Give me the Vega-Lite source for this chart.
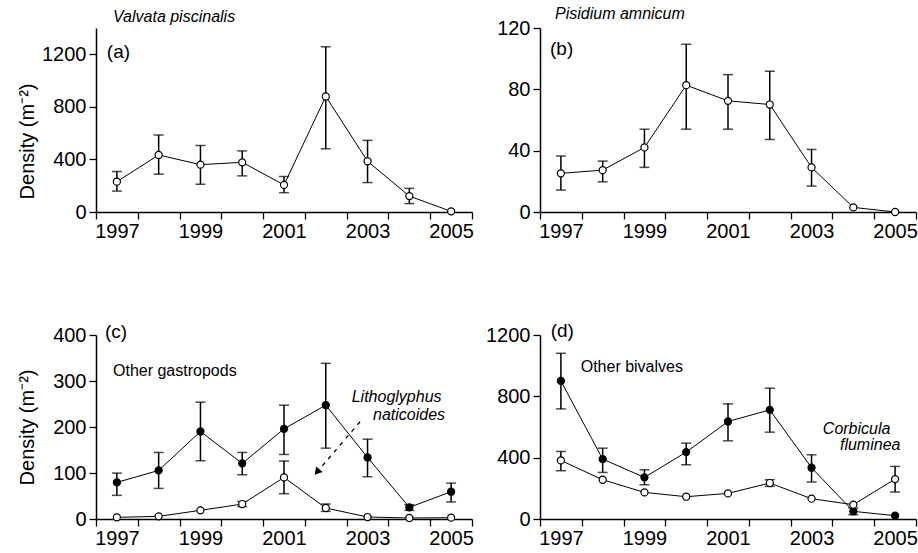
{
  "$schema": "https://vega.github.io/schema/vega-lite/v6.json",
  "background": "white",
  "padding": {"left": 16, "top": 6, "right": 0, "bottom": 0},
  "datasets": {
    "main": [
      {"panel": "a", "series": "Valvata piscinalis", "filled": "open", "year": 1997, "mean": 231, "lo": 159, "hi": 308},
      {"panel": "a", "series": "Valvata piscinalis", "filled": "open", "year": 1998, "mean": 434, "lo": 288, "hi": 586},
      {"panel": "a", "series": "Valvata piscinalis", "filled": "open", "year": 1999, "mean": 360, "lo": 211, "hi": 506},
      {"panel": "a", "series": "Valvata piscinalis", "filled": "open", "year": 2000, "mean": 378, "lo": 275, "hi": 465},
      {"panel": "a", "series": "Valvata piscinalis", "filled": "open", "year": 2001, "mean": 206, "lo": 147, "hi": 270},
      {"panel": "a", "series": "Valvata piscinalis", "filled": "open", "year": 2002, "mean": 879, "lo": 481, "hi": 1257},
      {"panel": "a", "series": "Valvata piscinalis", "filled": "open", "year": 2003, "mean": 386, "lo": 224, "hi": 545},
      {"panel": "a", "series": "Valvata piscinalis", "filled": "open", "year": 2004, "mean": 121, "lo": 64, "hi": 180},
      {"panel": "a", "series": "Valvata piscinalis", "filled": "open", "year": 2005, "mean": 5, "lo": null, "hi": null},

      {"panel": "b", "series": "Pisidium amnicum", "filled": "open", "year": 1997, "mean": 25.2, "lo": 14.3, "hi": 36.5},
      {"panel": "b", "series": "Pisidium amnicum", "filled": "open", "year": 1998, "mean": 27.3, "lo": 19.7, "hi": 33.2},
      {"panel": "b", "series": "Pisidium amnicum", "filled": "open", "year": 1999, "mean": 42.1, "lo": 29.1, "hi": 54},
      {"panel": "b", "series": "Pisidium amnicum", "filled": "open", "year": 2000, "mean": 82.7, "lo": 54, "hi": 109.4},
      {"panel": "b", "series": "Pisidium amnicum", "filled": "open", "year": 2001, "mean": 72.5, "lo": 54, "hi": 89.6},
      {"panel": "b", "series": "Pisidium amnicum", "filled": "open", "year": 2002, "mean": 70.1, "lo": 47.3, "hi": 91.8},
      {"panel": "b", "series": "Pisidium amnicum", "filled": "open", "year": 2003, "mean": 29.1, "lo": 16.9, "hi": 40.8},
      {"panel": "b", "series": "Pisidium amnicum", "filled": "open", "year": 2004, "mean": 3.0, "lo": null, "hi": null},
      {"panel": "b", "series": "Pisidium amnicum", "filled": "open", "year": 2005, "mean": 0, "lo": null, "hi": null},

      {"panel": "c", "series": "Other gastropods", "filled": "filled", "year": 1997, "mean": 79.6, "lo": 51.4, "hi": 99.8},
      {"panel": "c", "series": "Other gastropods", "filled": "filled", "year": 1998, "mean": 105.6, "lo": 66.5, "hi": 144.7},
      {"panel": "c", "series": "Other gastropods", "filled": "filled", "year": 1999, "mean": 190.2, "lo": 126.6, "hi": 253.9},
      {"panel": "c", "series": "Other gastropods", "filled": "filled", "year": 2000, "mean": 120.8, "lo": 96.2, "hi": 144.7},
      {"panel": "c", "series": "Other gastropods", "filled": "filled", "year": 2001, "mean": 196, "lo": 140.3, "hi": 247.4},
      {"panel": "c", "series": "Other gastropods", "filled": "filled", "year": 2002, "mean": 247.4, "lo": 154, "hi": 338.5},
      {"panel": "c", "series": "Other gastropods", "filled": "filled", "year": 2003, "mean": 133.8, "lo": 91.9, "hi": 173.6},
      {"panel": "c", "series": "Other gastropods", "filled": "filled", "year": 2004, "mean": 25.3, "lo": 18.8, "hi": 31},
      {"panel": "c", "series": "Other gastropods", "filled": "filled", "year": 2005, "mean": 59.3, "lo": 37, "hi": 78},

      {"panel": "c", "series": "Lithoglyphus naticoides", "filled": "open", "year": 1997, "mean": 3.6, "lo": null, "hi": null},
      {"panel": "c", "series": "Lithoglyphus naticoides", "filled": "open", "year": 1998, "mean": 5.8, "lo": null, "hi": null},
      {"panel": "c", "series": "Lithoglyphus naticoides", "filled": "open", "year": 1999, "mean": 18.8, "lo": null, "hi": null},
      {"panel": "c", "series": "Lithoglyphus naticoides", "filled": "open", "year": 2000, "mean": 32.5, "lo": 27, "hi": 38},
      {"panel": "c", "series": "Lithoglyphus naticoides", "filled": "open", "year": 2001, "mean": 90.4, "lo": 55, "hi": 125.9},
      {"panel": "c", "series": "Lithoglyphus naticoides", "filled": "open", "year": 2002, "mean": 23.9, "lo": 16.6, "hi": 32.5},
      {"panel": "c", "series": "Lithoglyphus naticoides", "filled": "open", "year": 2003, "mean": 4.3, "lo": null, "hi": null},
      {"panel": "c", "series": "Lithoglyphus naticoides", "filled": "open", "year": 2004, "mean": 2.2, "lo": null, "hi": null},
      {"panel": "c", "series": "Lithoglyphus naticoides", "filled": "open", "year": 2005, "mean": 2.9, "lo": null, "hi": null},

      {"panel": "d", "series": "Other bivalves", "filled": "filled", "year": 1997, "mean": 900.6, "lo": 718, "hi": 1080.7},
      {"panel": "d", "series": "Other bivalves", "filled": "filled", "year": 1998, "mean": 390.6, "lo": 303.8, "hi": 462},
      {"panel": "d", "series": "Other bivalves", "filled": "filled", "year": 1999, "mean": 271.3, "lo": 223.5, "hi": 321},
      {"panel": "d", "series": "Other bivalves", "filled": "filled", "year": 2000, "mean": 436.2, "lo": 353.7, "hi": 494.8},
      {"panel": "d", "series": "Other bivalves", "filled": "filled", "year": 2001, "mean": 635.8, "lo": 510, "hi": 750.9},
      {"panel": "d", "series": "Other bivalves", "filled": "filled", "year": 2002, "mean": 711.8, "lo": 566.4, "hi": 852.9},
      {"panel": "d", "series": "Other bivalves", "filled": "filled", "year": 2003, "mean": 334.2, "lo": 240.9, "hi": 418.8},
      {"panel": "d", "series": "Other bivalves", "filled": "filled", "year": 2004, "mean": 49.9, "lo": 28.2, "hi": 71.6},
      {"panel": "d", "series": "Other bivalves", "filled": "filled", "year": 2005, "mean": 21.7, "lo": null, "hi": null},

      {"panel": "d", "series": "Corbicula fluminea", "filled": "open", "year": 1997, "mean": 382, "lo": 314.7, "hi": 440.5},
      {"panel": "d", "series": "Corbicula fluminea", "filled": "open", "year": 1998, "mean": 256, "lo": null, "hi": null},
      {"panel": "d", "series": "Corbicula fluminea", "filled": "open", "year": 1999, "mean": 173.6, "lo": null, "hi": null},
      {"panel": "d", "series": "Corbicula fluminea", "filled": "open", "year": 2000, "mean": 145.4, "lo": null, "hi": null},
      {"panel": "d", "series": "Corbicula fluminea", "filled": "open", "year": 2001, "mean": 167.1, "lo": null, "hi": null},
      {"panel": "d", "series": "Corbicula fluminea", "filled": "open", "year": 2002, "mean": 234.4, "lo": 212.7, "hi": 256},
      {"panel": "d", "series": "Corbicula fluminea", "filled": "open", "year": 2003, "mean": 132.4, "lo": null, "hi": null},
      {"panel": "d", "series": "Corbicula fluminea", "filled": "open", "year": 2004, "mean": 93.3, "lo": null, "hi": null},
      {"panel": "d", "series": "Corbicula fluminea", "filled": "open", "year": 2005, "mean": 260.4, "lo": 175.8, "hi": 342.9}
    ],
    "labels": [
      {"panel": "a", "style": "tag", "text": "(a)", "year": 1996.76, "v": 1217},
      {"panel": "b", "style": "tag", "text": "(b)", "year": 1996.74, "v": 106.3},
      {"panel": "c", "style": "tag", "text": "(c)", "year": 1996.715, "v": 407},
      {"panel": "c", "style": "normal", "text": "Other gastropods", "year": 1996.907, "v": 322.4},
      {"panel": "c", "style": "italic", "text": "Lithoglyphus", "year": 2002.62, "v": 265.9},
      {"panel": "c", "style": "italic", "text": "naticoides", "year": 2003.13, "v": 226},
      {"panel": "d", "style": "tag", "text": "(d)", "year": 1996.756, "v": 1226},
      {"panel": "d", "style": "normal", "text": "Other bivalves", "year": 1997.474, "v": 989},
      {"panel": "d", "style": "italic", "text": "Corbicula", "year": 2003.27, "v": 587},
      {"panel": "d", "style": "italic", "text": "fluminea", "year": 2003.68, "v": 482.6}
    ],
    "arrow": [
      {"panel": "c", "year": 2002.82, "v": 211.5, "year2": 2001.79, "v2": 102}
    ]
  },
  "spacing": {"row": 123, "column": 68},
  "bounds": "flush",
  "columns": 2,
  "concat": [
    {
      "width": 376, "height": 184,
      "title": {"text": "Valvata piscinalis", "anchor": "start", "frame": "group", "dx": 17, "offset": 3, "fontStyle": "italic", "fontWeight": "normal", "fontSize": 16, "font": "Liberation Sans", "color": "black"},
      "data": {"name": "main"},
      "encoding": {
        "x": {"field": "year", "type": "quantitative", "title": null,
          "scale": {"domain": [1996.5, 2005.5], "nice": false, "zero": false},
          "axis": {"values": [1996.5, 1997, 1997.5, 1998.5, 1999, 1999.5, 2000.5, 2001, 2001.5, 2002.5, 2003, 2003.5, 2004.5, 2005, 2005.5],
            "labelExpr": "datum.value % 2 == 1 ? format(datum.value, 'd') : ''",
            "tickOpacity": {"condition": {"test": "datum.value % 1 == 0", "value": 0}, "value": 1},
            "labelPadding": 2}}
      },
      "layer": [
        {"transform": [{"filter": "datum.panel == 'a'"}],
         "mark": {"type": "line", "color": "black", "strokeWidth": 1},
         "encoding": {
           "y": {"field": "mean", "type": "quantitative", "title": "Density (m⁻²)",
             "scale": {"domain": [0, 1400], "nice": false, "zero": true},
             "axis": {"values": [0, 200, 400, 600, 800, 1000, 1200, 1400], "format": "d",
               "labelExpr": "datum.value % 400 == 0 ? datum.label : ''", "labelPadding": 3,
               "titleX": -59, "titleY": 113}},
           "detail": {"field": "series"}}},
        {"transform": [{"filter": "datum.panel == 'a' && isValid(datum.hi)"}],
         "mark": {"type": "errorbar", "color": "black", "thickness": 1.5, "ticks": {"size": 10}},
         "encoding": {"y": {"field": "lo", "type": "quantitative", "title": "Density (m⁻²)"}, "y2": {"field": "hi"}}},
        {"transform": [{"filter": "datum.panel == 'a'"}],
         "mark": {"type": "point", "shape": "circle", "filled": true, "size": 50, "stroke": "black", "strokeWidth": 1.2, "opacity": 1},
         "encoding": {
           "y": {"field": "mean", "type": "quantitative", "title": "Density (m⁻²)"},
           "fill": {"field": "filled", "type": "nominal", "scale": {"domain": ["open", "filled"], "range": ["white", "black"]}, "legend": null}}},
        {"data": {"name": "labels"}, "transform": [{"filter": "datum.panel == 'a' && datum.style == 'tag'"}],
         "mark": {"type": "text", "align": "left", "baseline": "middle", "fontSize": 19, "font": "Liberation Sans", "color": "black"},
         "encoding": {"y": {"field": "v", "type": "quantitative", "title": "Density (m⁻²)"}, "text": {"field": "text"}}}
      ]
    },
    {
      "width": 376, "height": 184,
      "title": {"text": "Pisidium amnicum", "anchor": "start", "frame": "group", "dx": 15, "offset": -4, "fontStyle": "italic", "fontWeight": "normal", "fontSize": 16, "font": "Liberation Sans", "color": "black"},
      "data": {"name": "main"},
      "encoding": {
        "x": {"field": "year", "type": "quantitative", "title": null,
          "scale": {"domain": [1996.5, 2005.5], "nice": false, "zero": false},
          "axis": {"values": [1996.5, 1997, 1997.5, 1998.5, 1999, 1999.5, 2000.5, 2001, 2001.5, 2002.5, 2003, 2003.5, 2004.5, 2005, 2005.5],
            "labelExpr": "datum.value % 2 == 1 ? format(datum.value, 'd') : ''",
            "tickOpacity": {"condition": {"test": "datum.value % 1 == 0", "value": 0}, "value": 1},
            "labelPadding": 2}}
      },
      "layer": [
        {"transform": [{"filter": "datum.panel == 'b'"}],
         "mark": {"type": "line", "color": "black", "strokeWidth": 1},
         "encoding": {
           "y": {"field": "mean", "type": "quantitative", "title": null,
             "scale": {"domain": [0, 120], "nice": false, "zero": true},
             "axis": {"values": [0, 20, 40, 60, 80, 100, 120], "format": "d",
               "labelExpr": "datum.value % 40 == 0 ? datum.label : ''", "labelPadding": 3}},
           "detail": {"field": "series"}}},
        {"transform": [{"filter": "datum.panel == 'b' && isValid(datum.hi)"}],
         "mark": {"type": "errorbar", "color": "black", "thickness": 1.5, "ticks": {"size": 10}},
         "encoding": {"y": {"field": "lo", "type": "quantitative", "title": null}, "y2": {"field": "hi"}}},
        {"transform": [{"filter": "datum.panel == 'b'"}],
         "mark": {"type": "point", "shape": "circle", "filled": true, "size": 50, "stroke": "black", "strokeWidth": 1.2, "opacity": 1},
         "encoding": {
           "y": {"field": "mean", "type": "quantitative", "title": null},
           "fill": {"field": "filled", "type": "nominal", "scale": {"domain": ["open", "filled"], "range": ["white", "black"]}, "legend": null}}},
        {"data": {"name": "labels"}, "transform": [{"filter": "datum.panel == 'b' && datum.style == 'tag'"}],
         "mark": {"type": "text", "align": "left", "baseline": "middle", "fontSize": 19, "font": "Liberation Sans", "color": "black"},
         "encoding": {"y": {"field": "v", "type": "quantitative", "title": null}, "text": {"field": "text"}}}
      ]
    },
    {
      "width": 376, "height": 184,
      "data": {"name": "main"},
      "encoding": {
        "x": {"field": "year", "type": "quantitative", "title": null,
          "scale": {"domain": [1996.5, 2005.5], "nice": false, "zero": false},
          "axis": {"values": [1996.5, 1997, 1997.5, 1998.5, 1999, 1999.5, 2000.5, 2001, 2001.5, 2002.5, 2003, 2003.5, 2004.5, 2005, 2005.5],
            "labelExpr": "datum.value % 2 == 1 ? format(datum.value, 'd') : ''",
            "tickOpacity": {"condition": {"test": "datum.value % 1 == 0", "value": 0}, "value": 1},
            "labelPadding": 2}}
      },
      "layer": [
        {"transform": [{"filter": "datum.panel == 'c'"}],
         "mark": {"type": "line", "color": "black", "strokeWidth": 1},
         "encoding": {
           "y": {"field": "mean", "type": "quantitative", "title": "Density (m⁻²)",
             "scale": {"domain": [0, 400], "nice": false, "zero": true},
             "axis": {"values": [0, 50, 100, 150, 200, 250, 300, 350, 400], "format": "d",
               "labelExpr": "datum.value % 100 == 0 ? datum.label : ''", "labelPadding": 3,
               "titleX": -59}},
           "detail": {"field": "series"}}},
        {"data": {"name": "arrow"},
         "mark": {"type": "rule", "color": "black", "strokeWidth": 1.3, "strokeDash": [4, 5]},
         "encoding": {"x2": {"field": "year2"}, "y": {"field": "v", "type": "quantitative", "title": "Density (m⁻²)"}, "y2": {"field": "v2"}}},
        {"data": {"name": "arrow"},
         "mark": {"type": "point", "shape": "triangle-up", "filled": true, "color": "black", "size": 70, "angle": 220, "opacity": 1},
         "encoding": {"x": {"field": "year2", "type": "quantitative", "title": null}, "y": {"field": "v2", "type": "quantitative", "title": "Density (m⁻²)"}}},
        {"transform": [{"filter": "datum.panel == 'c' && isValid(datum.hi)"}],
         "mark": {"type": "errorbar", "color": "black", "thickness": 1.5, "ticks": {"size": 10}},
         "encoding": {"y": {"field": "lo", "type": "quantitative", "title": "Density (m⁻²)"}, "y2": {"field": "hi"}}},
        {"transform": [{"filter": "datum.panel == 'c'"}],
         "mark": {"type": "point", "shape": "circle", "filled": true, "size": 50, "stroke": "black", "strokeWidth": 1.2, "opacity": 1},
         "encoding": {
           "y": {"field": "mean", "type": "quantitative", "title": "Density (m⁻²)"},
           "fill": {"field": "filled", "type": "nominal", "scale": {"domain": ["open", "filled"], "range": ["white", "black"]}, "legend": null}}},
        {"data": {"name": "labels"}, "transform": [{"filter": "datum.panel == 'c' && datum.style == 'tag'"}],
         "mark": {"type": "text", "align": "left", "baseline": "middle", "fontSize": 19, "font": "Liberation Sans", "color": "black"},
         "encoding": {"y": {"field": "v", "type": "quantitative", "title": "Density (m⁻²)"}, "text": {"field": "text"}}},
        {"data": {"name": "labels"}, "transform": [{"filter": "datum.panel == 'c' && datum.style == 'normal'"}],
         "mark": {"type": "text", "align": "left", "baseline": "middle", "fontSize": 16, "font": "Liberation Sans", "color": "black"},
         "encoding": {"y": {"field": "v", "type": "quantitative", "title": "Density (m⁻²)"}, "text": {"field": "text"}}},
        {"data": {"name": "labels"}, "transform": [{"filter": "datum.panel == 'c' && datum.style == 'italic'"}],
         "mark": {"type": "text", "align": "left", "baseline": "middle", "fontSize": 16, "fontStyle": "italic", "font": "Liberation Sans", "color": "black"},
         "encoding": {"y": {"field": "v", "type": "quantitative", "title": "Density (m⁻²)"}, "text": {"field": "text"}}}
      ]
    },
    {
      "width": 376, "height": 184,
      "data": {"name": "main"},
      "encoding": {
        "x": {"field": "year", "type": "quantitative", "title": null,
          "scale": {"domain": [1996.5, 2005.5], "nice": false, "zero": false},
          "axis": {"values": [1996.5, 1997, 1997.5, 1998.5, 1999, 1999.5, 2000.5, 2001, 2001.5, 2002.5, 2003, 2003.5, 2004.5, 2005, 2005.5],
            "labelExpr": "datum.value % 2 == 1 ? format(datum.value, 'd') : ''",
            "tickOpacity": {"condition": {"test": "datum.value % 1 == 0", "value": 0}, "value": 1},
            "labelPadding": 2}}
      },
      "layer": [
        {"transform": [{"filter": "datum.panel == 'd'"}],
         "mark": {"type": "line", "color": "black", "strokeWidth": 1},
         "encoding": {
           "y": {"field": "mean", "type": "quantitative", "title": null,
             "scale": {"domain": [0, 1200], "nice": false, "zero": true},
             "axis": {"values": [0, 200, 400, 600, 800, 1000, 1200], "format": "d",
               "labelExpr": "datum.value % 400 == 0 ? datum.label : ''", "labelPadding": 3}},
           "detail": {"field": "series"}}},
        {"transform": [{"filter": "datum.panel == 'd' && isValid(datum.hi)"}],
         "mark": {"type": "errorbar", "color": "black", "thickness": 1.5, "ticks": {"size": 10}},
         "encoding": {"y": {"field": "lo", "type": "quantitative", "title": null}, "y2": {"field": "hi"}}},
        {"transform": [{"filter": "datum.panel == 'd'"}],
         "mark": {"type": "point", "shape": "circle", "filled": true, "size": 50, "stroke": "black", "strokeWidth": 1.2, "opacity": 1},
         "encoding": {
           "y": {"field": "mean", "type": "quantitative", "title": null},
           "fill": {"field": "filled", "type": "nominal", "scale": {"domain": ["open", "filled"], "range": ["white", "black"]}, "legend": null}}},
        {"data": {"name": "labels"}, "transform": [{"filter": "datum.panel == 'd' && datum.style == 'tag'"}],
         "mark": {"type": "text", "align": "left", "baseline": "middle", "fontSize": 19, "font": "Liberation Sans", "color": "black"},
         "encoding": {"y": {"field": "v", "type": "quantitative", "title": null}, "text": {"field": "text"}}},
        {"data": {"name": "labels"}, "transform": [{"filter": "datum.panel == 'd' && datum.style == 'normal'"}],
         "mark": {"type": "text", "align": "left", "baseline": "middle", "fontSize": 16, "font": "Liberation Sans", "color": "black"},
         "encoding": {"y": {"field": "v", "type": "quantitative", "title": null}, "text": {"field": "text"}}},
        {"data": {"name": "labels"}, "transform": [{"filter": "datum.panel == 'd' && datum.style == 'italic'"}],
         "mark": {"type": "text", "align": "left", "baseline": "middle", "fontSize": 16, "fontStyle": "italic", "font": "Liberation Sans", "color": "black"},
         "encoding": {"y": {"field": "v", "type": "quantitative", "title": null}, "text": {"field": "text"}}}
      ]
    }
  ],
  "config": {
    "view": {"stroke": null},
    "font": "Liberation Sans",
    "axis": {
      "grid": false,
      "domainColor": "black", "domainWidth": 1.5,
      "tickColor": "black", "tickWidth": 1.3, "tickSize": 7,
      "labelFont": "Liberation Sans", "labelFontSize": 20, "labelColor": "black",
      "titleFont": "Liberation Sans", "titleFontSize": 20, "titleFontWeight": "normal", "titleColor": "black",
      "labelOverlap": false, "labelFlush": false, "labelBound": false
    }
  }
}
